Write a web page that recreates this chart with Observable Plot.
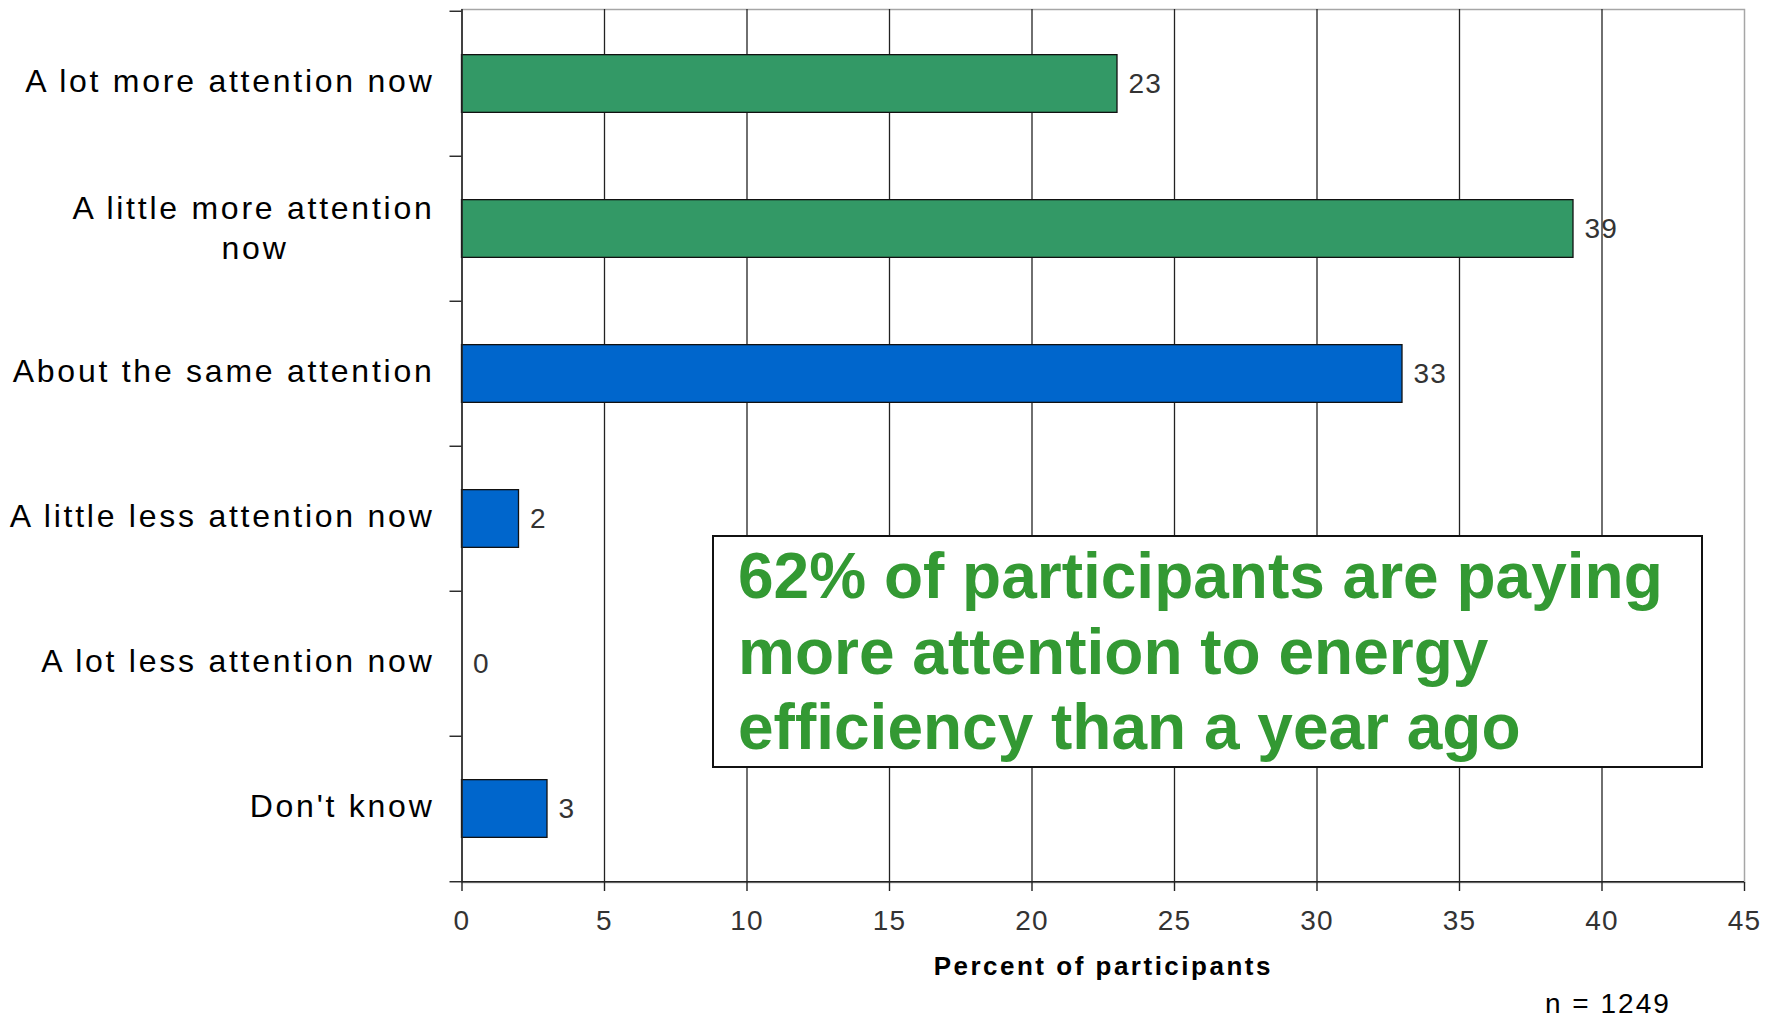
<!DOCTYPE html>
<html>
<head>
<meta charset="utf-8">
<script src="https://cdn.jsdelivr.net/npm/d3@7"></script>
<script src="https://cdn.jsdelivr.net/npm/@observablehq/plot@0.6"></script>
<style>
  html, body { margin: 0; padding: 0; background: #fff; overflow: hidden; }
  #wrap { position: relative; width: 1778px; height: 1018px; font-family: "Liberation Sans", Arial, sans-serif; }
  #chart { position: absolute; left: 0; top: 0; }
  #callout {
    position: absolute; left: 712px; top: 535px; width: 991px; height: 233px;
    box-sizing: border-box; border: 2px solid #111; background: #fff;
    color: #339933; font-weight: bold; font-size: 64px; line-height: 75.5px;
    padding: 2px 0 0 24px; white-space: nowrap;
  }
  #caption {
    position: absolute; left: 1545px; top: 990px; font-size: 28px; line-height: 28px;
    letter-spacing: 2px; color: #000; white-space: nowrap;
  }
</style>
</head>
<body>
<div id="wrap">
  <div id="chart"></div>
  <div id="callout"></div>
  <div id="caption"></div>
</div>
<script>
// ---- data ----
const categories = [
  "A lot more attention now",
  "A little more attention now",
  "About the same attention",
  "A little less attention now",
  "A lot less attention now",
  "Don't know"
];
const values = [23, 39, 33, 2, 0, 3];
const groups = ["more", "more", "other", "other", "other", "other"];
const groupColors = ["#339966", "#0066CC"];
const xTicks = [0, 5, 10, 15, 20, 25, 30, 35, 40, 45];
const xLabel = "Percent of participants";
const wrappedCategory = "A little more attention now";
const wrappedLines = ["A little more attention", "now"];
const calloutLines = [
  "62% of participants are paying",
  "more attention to energy",
  "efficiency than a year ago"
];
const captionText = "n = 1249";

// ---- layout ----
const W = 1778, H = 990, mt = 9, mb = 108, ml = 461.5, mr = 34;
const band = (H - mt - mb) / categories.length;
const half = band / 2;
const barInset = band * 0.3;

const data = categories.map((c, i) => ({category: c, value: values[i], group: groups[i]}));
const singleLine = data.filter(d => d.category !== wrappedCategory);
const wrapped = data.filter(d => d.category === wrappedCategory);

const svg = Plot.plot({
  width: W, height: H,
  marginTop: mt, marginBottom: mb, marginLeft: ml, marginRight: mr,
  style: {fontFamily: "'Liberation Sans', Arial, sans-serif", background: "#fff", color: "#000", overflow: "visible"},
  x: {domain: [0, 45]},
  y: {domain: categories, padding: 0},
  color: {domain: ["more", "other"], range: groupColors},
  marks: [
    Plot.frame({stroke: "#a6a6a6", strokeWidth: 1.5}),
    Plot.ruleX(xTicks.filter(t => t > 0 && t < 45), {stroke: "#222", strokeWidth: 1.3}),
    Plot.barX(data, {y: "category", x: "value", fill: "group", stroke: "#111", strokeWidth: 1.3,
                     insetTop: barInset, insetBottom: barInset}),
    Plot.ruleX([0], {stroke: "#222", strokeWidth: 1.6}),
    Plot.ruleY([categories[categories.length - 1]], {dy: half, stroke: "#222", strokeWidth: 1.6}),
    Plot.axisY({tickSize: 12, tickFormat: () => "", label: null, dy: -half, stroke: "#222", strokeWidth: 1.4}),
    Plot.axisY([categories[categories.length - 1]], {tickSize: 12, tickFormat: () => "", label: null, dy: half, stroke: "#222", strokeWidth: 1.4}),
    Plot.axisX(xTicks, {tickSize: 9, tickPadding: 19, fontSize: 28, fill: "#333", label: null, stroke: "#222", strokeWidth: 1.4}),
    Plot.text(singleLine, {y: "category", text: "category", frameAnchor: "left", textAnchor: "end",
                           dx: -27.5, dy: -2, fontSize: 32, fill: "#000"}),
    Plot.text(wrapped, {y: "category", text: () => wrappedLines[0], frameAnchor: "left", textAnchor: "end",
                        dx: -27.5, dy: -20, fontSize: 32, fill: "#000"}),
    Plot.text(wrapped, {y: "category", text: () => wrappedLines[1], frameAnchor: "left", textAnchor: "middle",
                        dx: -207, dy: 19.5, fontSize: 32, fill: "#000"}),
    Plot.text(data, {x: "value", y: "category", text: d => String(d.value), textAnchor: "start",
                     dx: 11, fontSize: 28, fill: "#333"}),
    Plot.text([xLabel], {text: d => d, frameAnchor: "bottom", lineAnchor: "top", dy: 74,
                         fontSize: 26, fontWeight: "bold", fill: "#000"})
  ]
});

d3.select(svg).selectAll('g[font-size="32"]').attr("letter-spacing", 2.75);
d3.select(svg).selectAll('g[font-size="28"]').attr("letter-spacing", 1.2);
d3.select(svg).selectAll('g[font-size="26"]').attr("letter-spacing", 2.5);

document.getElementById("chart").appendChild(svg);
document.getElementById("callout").innerHTML = calloutLines.join("<br>");
document.getElementById("caption").textContent = captionText;
</script>
</body>
</html>
